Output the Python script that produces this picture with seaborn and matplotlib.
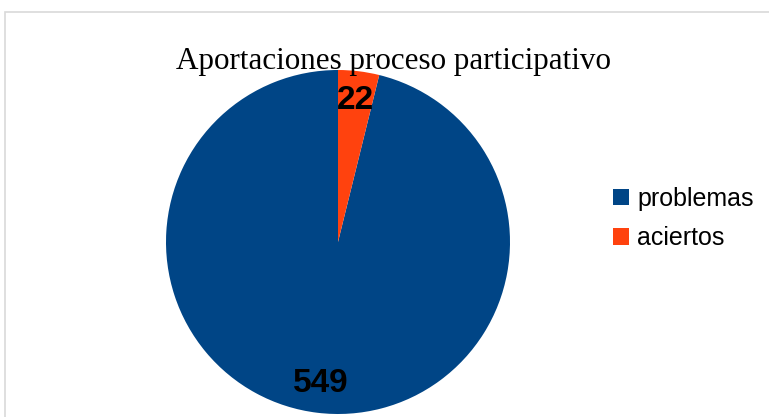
import matplotlib
matplotlib.use("Agg")
import matplotlib.pyplot as plt
import seaborn as sns
from matplotlib.patches import Rectangle, Patch

etiquetas = ["problemas", "aciertos"]
valores = [549, 22]
colores = ["#004586", "#ff420e"]
titulo = "Aportaciones proceso participativo"

sns.set_theme(style="white")
plt.rcParams['font.family'] = ['Liberation Sans', 'DejaVu Sans']

W, H = 769, 417
fig = plt.figure(figsize=(W / 100, H / 100), dpi=100)
fig.patch.set_facecolor("white")

# marco gris del grafico
fig.patches.append(Rectangle((5 / W, -0.1), 1.2, 1 - 12 / H + 0.1, transform=fig.transFigure,
                             fill=False, edgecolor="#d9d9d9", linewidth=1.2))

cx, cy, r = 338, 242, 172
ax = fig.add_axes([(cx - r) / W, (H - cy - r) / H, 2 * r / W, 2 * r / H])
wedges, texts, autotexts = ax.pie(
    valores, colors=colores, startangle=90, counterclock=True,
    autopct=lambda p: f"{round(p * sum(valores) / 100):d}", pctdistance=0.83,
    wedgeprops=dict(linewidth=0), radius=1,
    textprops=dict(fontsize=24, fontweight="bold", color="black"))
ax.set_xlim(-1, 1)
ax.set_ylim(-1, 1)
ax.set_aspect("equal")
ax.axis("off")

fig.text(394 / W, 1 - 69 / H, titulo, ha="center", va="baseline",
         fontsize=22.4, family="Liberation Serif", color="black")

handles = [Patch(facecolor=c, edgecolor="none") for c in colores]
fig.legend(handles, etiquetas, loc="center left", bbox_to_anchor=(613 / W, 1 - 218.5 / H),
           frameon=False, fontsize=18, handlelength=0.64, handleheight=0.64,
           handletextpad=0.32, labelspacing=0.62, borderaxespad=0, borderpad=0,
           labelcolor="black")

fig.savefig("out.png", dpi=100)
